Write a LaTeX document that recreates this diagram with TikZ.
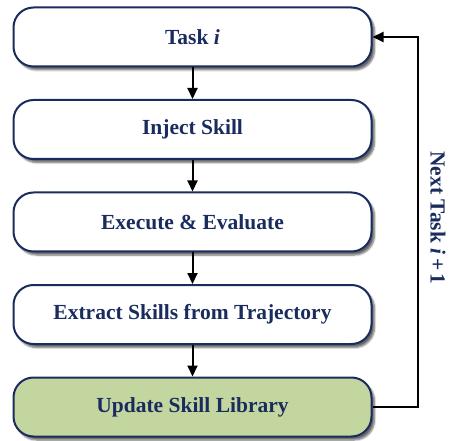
\documentclass[tikz,border=0pt]{standalone}
\usepackage{fontspec}
\setmainfont{Liberation Serif}
\usetikzlibrary{shadows.blur,arrows.meta}
\definecolor{navy}{HTML}{1A2C5E}
\definecolor{libgreen}{HTML}{C4D6A0}
\begin{document}
\begin{tikzpicture}[x=1pt,y=-1pt,
  stepbox/.style={draw=navy,line width=2pt,rounded corners=20pt,fill=white,
    minimum width=358pt,minimum height=59pt,inner sep=0pt,
    font=\fontsize{21.5}{24}\selectfont\bfseries,text=navy,
    blur shadow={shadow xshift=3pt,shadow yshift=-3.5pt,shadow blur steps=6,shadow opacity=60}},
  flow/.style={line width=2pt,-{Triangle[length=11pt,width=10pt]}}]
\useasboundingbox (0,0) rectangle (453,441);
\node[stepbox] (t) at (192.5,37) {Task \textit{i}};
\node[stepbox] (inj) at (192.5,129.5) {Inject Skill};
\node[stepbox] (ex) at (192.5,222) {Execute \& Evaluate};
\node[stepbox] (xt) at (192.5,314.5) {Extract Skills from Trajectory};
\node[stepbox,fill=libgreen] (up) at (192.5,407) {Update Skill Library};
\draw[flow] (t) -- (inj);
\draw[flow] (inj) -- (ex);
\draw[flow] (ex) -- (xt);
\draw[flow] (xt) -- (up);
\coordinate (c1) at (418,407);
\coordinate (c2) at (418,37);
\draw[flow] (up.east) -- (c1) -- (c2) -- (t.east);
\node[rotate=-90,font=\fontsize{21.5}{24}\selectfont\bfseries,text=navy] (lab) at (438,218) {Next Task \textit{i}\,+\,1};
\end{tikzpicture}
\end{document}
